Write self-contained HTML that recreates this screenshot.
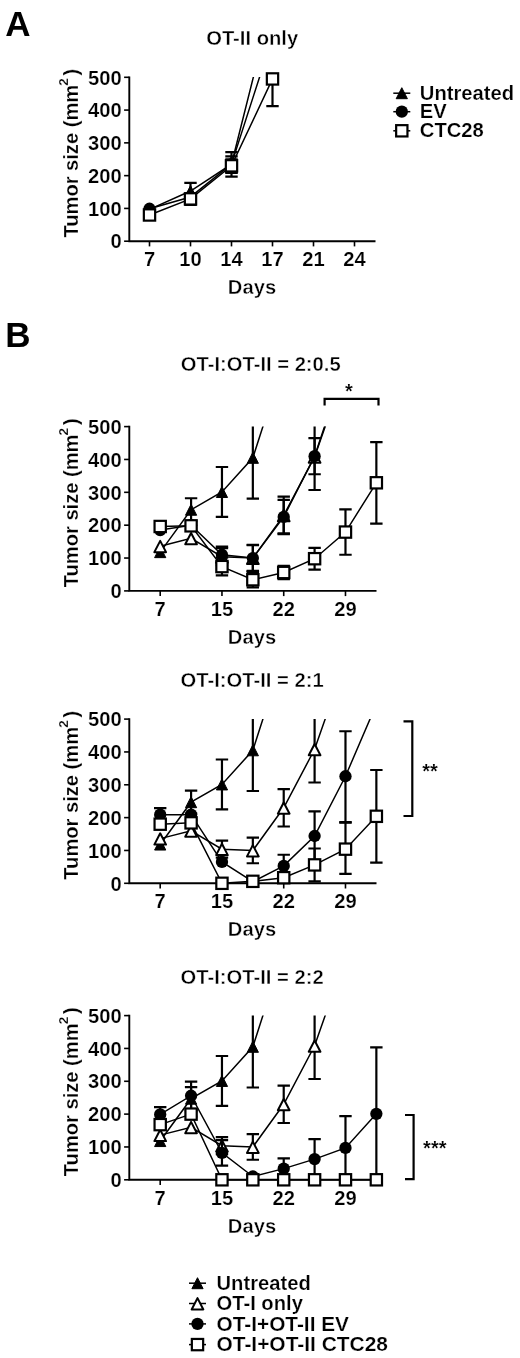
<!DOCTYPE html>
<html lang="en"><head><meta charset="utf-8"><title>Figure</title>
<style>html,body{margin:0;padding:0;background:#fff}svg{display:block;will-change:transform}text{font-family:'Liberation Sans', sans-serif;fill:#000}</style>
</head><body>
<svg width="520" height="1358" viewBox="0 0 520 1358" font-family='"Liberation Sans", sans-serif'>
<rect width="520" height="1358" fill="#fff"/>
<text x="5.30" y="36.40" font-size="35" text-anchor="start" font-weight="bold">A</text>
<text x="5.30" y="347.20" font-size="35" text-anchor="start" font-weight="bold">B</text>
<clipPath id="cpA"><rect x="129.3" y="77.10" width="266.2" height="175.90"/></clipPath>
<text x="206.20" y="45.40" font-size="20.2" text-anchor="start" font-weight="bold" stroke="#fff" stroke-width="0.4">OT-II only</text>
<path d="M129.3 76.40V241.20H375.5" fill="none" stroke="#000" stroke-width="1.9"/>
<line x1="124.10000000000001" x2="129.3" y1="241.20" y2="241.20" stroke="#000" stroke-width="1.6"/>
<text x="121.70" y="248.40" font-size="20.2" text-anchor="end" font-weight="bold" stroke="#fff" stroke-width="0.22">0</text>
<line x1="124.10000000000001" x2="129.3" y1="208.42" y2="208.42" stroke="#000" stroke-width="1.6"/>
<text x="121.70" y="215.62" font-size="20.2" text-anchor="end" font-weight="bold" stroke="#fff" stroke-width="0.22">100</text>
<line x1="124.10000000000001" x2="129.3" y1="175.64" y2="175.64" stroke="#000" stroke-width="1.6"/>
<text x="121.70" y="182.84" font-size="20.2" text-anchor="end" font-weight="bold" stroke="#fff" stroke-width="0.22">200</text>
<line x1="124.10000000000001" x2="129.3" y1="142.86" y2="142.86" stroke="#000" stroke-width="1.6"/>
<text x="121.70" y="150.06" font-size="20.2" text-anchor="end" font-weight="bold" stroke="#fff" stroke-width="0.22">300</text>
<line x1="124.10000000000001" x2="129.3" y1="110.08" y2="110.08" stroke="#000" stroke-width="1.6"/>
<text x="121.70" y="117.28" font-size="20.2" text-anchor="end" font-weight="bold" stroke="#fff" stroke-width="0.22">400</text>
<line x1="124.10000000000001" x2="129.3" y1="77.30" y2="77.30" stroke="#000" stroke-width="1.6"/>
<text x="121.70" y="84.50" font-size="20.2" text-anchor="end" font-weight="bold" stroke="#fff" stroke-width="0.22">500</text>
<line x1="149.50" x2="149.50" y1="241.20" y2="246.40" stroke="#000" stroke-width="1.6"/>
<text x="149.50" y="265.90" font-size="20.2" text-anchor="middle" font-weight="bold" stroke="#fff" stroke-width="0.22">7</text>
<line x1="190.50" x2="190.50" y1="241.20" y2="246.40" stroke="#000" stroke-width="1.6"/>
<text x="190.50" y="265.90" font-size="20.2" text-anchor="middle" font-weight="bold" stroke="#fff" stroke-width="0.22">10</text>
<line x1="231.50" x2="231.50" y1="241.20" y2="246.40" stroke="#000" stroke-width="1.6"/>
<text x="231.50" y="265.90" font-size="20.2" text-anchor="middle" font-weight="bold" stroke="#fff" stroke-width="0.22">14</text>
<line x1="272.50" x2="272.50" y1="241.20" y2="246.40" stroke="#000" stroke-width="1.6"/>
<text x="272.50" y="265.90" font-size="20.2" text-anchor="middle" font-weight="bold" stroke="#fff" stroke-width="0.22">17</text>
<line x1="313.50" x2="313.50" y1="241.20" y2="246.40" stroke="#000" stroke-width="1.6"/>
<text x="313.50" y="265.90" font-size="20.2" text-anchor="middle" font-weight="bold" stroke="#fff" stroke-width="0.22">21</text>
<line x1="354.50" x2="354.50" y1="241.20" y2="246.40" stroke="#000" stroke-width="1.6"/>
<text x="354.50" y="265.90" font-size="20.2" text-anchor="middle" font-weight="bold" stroke="#fff" stroke-width="0.22">24</text>
<text x="252.00" y="294.20" font-size="20.2" text-anchor="middle" font-weight="bold" stroke="#fff" stroke-width="0.4">Days</text>
<g transform="translate(78.0,237.60) rotate(-90)">
<text x="0.00" y="0.00" font-size="20.2" text-anchor="start" font-weight="bold" stroke="#fff" stroke-width="0.22" textLength="152.8" lengthAdjust="spacingAndGlyphs">Tumor size (mm</text>
<text x="151.90" y="-9.60" font-size="13.6" text-anchor="start" font-weight="bold" stroke="#fff" stroke-width="0.2">2</text>
<text x="162.20" y="0.00" font-size="20.2" text-anchor="start" font-weight="bold" stroke="#fff" stroke-width="0.22">)</text>
</g>
<g clip-path="url(#cpA)">
<path d="M184.30 182.85H196.70M190.50 182.85V199.24M184.30 199.24H196.70" fill="none" stroke="#000" stroke-width="2.2"/>
<path d="M225.30 152.04H237.70M231.50 152.04V176.62M225.30 176.62H237.70" fill="none" stroke="#000" stroke-width="2.2"/>
<polyline points="149.50,209.40 190.50,191.05 231.50,164.17 272.50,0.92" fill="none" stroke="#000" stroke-width="1.5"/>
</g>
<polygon points="149.50,203.90 155.10,214.90 143.90,214.90" fill="#000" stroke="#000" stroke-width="1"/>
<polygon points="190.50,185.55 196.10,196.55 184.90,196.55" fill="#000" stroke="#000" stroke-width="1"/>
<polygon points="231.50,158.67 237.10,169.67 225.90,169.67" fill="#000" stroke="#000" stroke-width="1"/>
<g clip-path="url(#cpA)">
<path d="M184.30 193.67H196.70M190.50 193.67V204.81M184.30 204.81H196.70" fill="none" stroke="#000" stroke-width="2.2"/>
<path d="M225.30 156.30H237.70M231.50 156.30V173.02M225.30 173.02H237.70" fill="none" stroke="#000" stroke-width="2.2"/>
<polyline points="149.50,208.75 190.50,196.95 231.50,164.17 272.50,36.98" fill="none" stroke="#000" stroke-width="1.5"/>
</g>
<circle cx="149.50" cy="208.75" r="6.15" fill="#000"/>
<circle cx="190.50" cy="196.95" r="6.15" fill="#000"/>
<circle cx="231.50" cy="164.17" r="6.15" fill="#000"/>
<g clip-path="url(#cpA)">
<path d="M225.30 159.25H237.70M231.50 159.25V172.36M225.30 172.36H237.70" fill="none" stroke="#000" stroke-width="2.2"/>
<path d="M266.30 78.94H278.70M272.50 78.94V106.15M266.30 106.15H278.70" fill="none" stroke="#000" stroke-width="2.2"/>
<polyline points="149.50,214.98 190.50,198.91 231.50,165.81 272.50,78.94" fill="none" stroke="#000" stroke-width="1.5"/>
</g>
<rect x="143.85" y="209.33" width="11.3" height="11.3" fill="#fff" stroke="#000" stroke-width="2.2"/>
<rect x="184.85" y="193.26" width="11.3" height="11.3" fill="#fff" stroke="#000" stroke-width="2.2"/>
<rect x="225.85" y="160.16" width="11.3" height="11.3" fill="#fff" stroke="#000" stroke-width="2.2"/>
<rect x="266.85" y="73.29" width="11.3" height="11.3" fill="#fff" stroke="#000" stroke-width="2.2"/>
<g clip-path="url(#cpA)">
</g>
<line x1="393.3" x2="410.3" y1="93.2" y2="93.2" stroke="#000" stroke-width="1.5"/>
<polygon points="401.80,87.70 407.40,98.70 396.20,98.70" fill="#000" stroke="#000" stroke-width="1"/>
<text x="419.80" y="99.80" font-size="20.2" text-anchor="start" font-weight="bold" stroke="#fff" stroke-width="0.22">Untreated</text>
<line x1="393.3" x2="410.3" y1="111.7" y2="111.7" stroke="#000" stroke-width="1.5"/>
<circle cx="401.80" cy="111.70" r="6.15" fill="#000"/>
<text x="419.80" y="118.30" font-size="20.2" text-anchor="start" font-weight="bold" stroke="#fff" stroke-width="0.22">EV</text>
<line x1="393.3" x2="410.3" y1="130.8" y2="130.8" stroke="#000" stroke-width="1.5"/>
<rect x="396.15" y="125.15" width="11.3" height="11.3" fill="#fff" stroke="#000" stroke-width="2.2"/>
<text x="419.80" y="136.90" font-size="20.2" text-anchor="start" font-weight="bold" stroke="#fff" stroke-width="0.22">CTC28</text>
<clipPath id="cpB1"><rect x="129.3" y="426.40" width="267.2" height="176.30"/></clipPath>
<text x="180.80" y="370.50" font-size="20.2" text-anchor="start" font-weight="bold" stroke="#fff" stroke-width="0.4">OT-I:OT-II = 2:0.5</text>
<path d="M129.3 425.70V590.90H376.5" fill="none" stroke="#000" stroke-width="1.9"/>
<line x1="124.10000000000001" x2="129.3" y1="590.90" y2="590.90" stroke="#000" stroke-width="1.6"/>
<text x="121.70" y="598.10" font-size="20.2" text-anchor="end" font-weight="bold" stroke="#fff" stroke-width="0.22">0</text>
<line x1="124.10000000000001" x2="129.3" y1="558.04" y2="558.04" stroke="#000" stroke-width="1.6"/>
<text x="121.70" y="565.24" font-size="20.2" text-anchor="end" font-weight="bold" stroke="#fff" stroke-width="0.22">100</text>
<line x1="124.10000000000001" x2="129.3" y1="525.18" y2="525.18" stroke="#000" stroke-width="1.6"/>
<text x="121.70" y="532.38" font-size="20.2" text-anchor="end" font-weight="bold" stroke="#fff" stroke-width="0.22">200</text>
<line x1="124.10000000000001" x2="129.3" y1="492.32" y2="492.32" stroke="#000" stroke-width="1.6"/>
<text x="121.70" y="499.52" font-size="20.2" text-anchor="end" font-weight="bold" stroke="#fff" stroke-width="0.22">300</text>
<line x1="124.10000000000001" x2="129.3" y1="459.46" y2="459.46" stroke="#000" stroke-width="1.6"/>
<text x="121.70" y="466.66" font-size="20.2" text-anchor="end" font-weight="bold" stroke="#fff" stroke-width="0.22">400</text>
<line x1="124.10000000000001" x2="129.3" y1="426.60" y2="426.60" stroke="#000" stroke-width="1.6"/>
<text x="121.70" y="433.80" font-size="20.2" text-anchor="end" font-weight="bold" stroke="#fff" stroke-width="0.22">500</text>
<line x1="160.20" x2="160.20" y1="590.90" y2="596.10" stroke="#000" stroke-width="1.6"/>
<text x="160.20" y="615.60" font-size="20.2" text-anchor="middle" font-weight="bold" stroke="#fff" stroke-width="0.22">7</text>
<line x1="221.96" x2="221.96" y1="590.90" y2="596.10" stroke="#000" stroke-width="1.6"/>
<text x="221.96" y="615.60" font-size="20.2" text-anchor="middle" font-weight="bold" stroke="#fff" stroke-width="0.22">15</text>
<line x1="283.72" x2="283.72" y1="590.90" y2="596.10" stroke="#000" stroke-width="1.6"/>
<text x="283.72" y="615.60" font-size="20.2" text-anchor="middle" font-weight="bold" stroke="#fff" stroke-width="0.22">22</text>
<line x1="345.48" x2="345.48" y1="590.90" y2="596.10" stroke="#000" stroke-width="1.6"/>
<text x="345.48" y="615.60" font-size="20.2" text-anchor="middle" font-weight="bold" stroke="#fff" stroke-width="0.22">29</text>
<text x="252.00" y="644.00" font-size="20.2" text-anchor="middle" font-weight="bold" stroke="#fff" stroke-width="0.4">Days</text>
<g transform="translate(78.0,587.30) rotate(-90)">
<text x="0.00" y="0.00" font-size="20.2" text-anchor="start" font-weight="bold" stroke="#fff" stroke-width="0.22" textLength="152.8" lengthAdjust="spacingAndGlyphs">Tumor size (mm</text>
<text x="151.90" y="-9.60" font-size="13.6" text-anchor="start" font-weight="bold" stroke="#fff" stroke-width="0.2">2</text>
<text x="162.20" y="0.00" font-size="20.2" text-anchor="start" font-weight="bold" stroke="#fff" stroke-width="0.22">)</text>
</g>
<g clip-path="url(#cpB1)">
<path d="M184.88 498.23H197.28M191.08 498.23V521.24M184.88 521.24H197.28" fill="none" stroke="#000" stroke-width="2.2"/>
<path d="M215.76 467.02H228.16M221.96 467.02V516.97M215.76 516.97H228.16" fill="none" stroke="#000" stroke-width="2.2"/>
<path d="M246.64 417.07H259.04M252.84 417.07V498.56M246.64 498.56H259.04" fill="none" stroke="#000" stroke-width="2.2"/>
<polyline points="160.20,552.13 191.08,509.74 221.96,491.99 252.84,457.82 283.72,361.87" fill="none" stroke="#000" stroke-width="1.5"/>
</g>
<polygon points="160.20,546.63 165.80,557.63 154.60,557.63" fill="#000" stroke="#000" stroke-width="1"/>
<polygon points="191.08,504.24 196.68,515.24 185.48,515.24" fill="#000" stroke="#000" stroke-width="1"/>
<polygon points="221.96,486.49 227.56,497.49 216.36,497.49" fill="#000" stroke="#000" stroke-width="1"/>
<polygon points="252.84,452.32 258.44,463.32 247.24,463.32" fill="#000" stroke="#000" stroke-width="1"/>
<g clip-path="url(#cpB1)">
<path d="M215.76 548.18H228.16M221.96 548.18V565.27M215.76 565.27H228.16" fill="none" stroke="#000" stroke-width="2.2"/>
<path d="M246.64 545.22H259.04M252.84 545.22V570.86M246.64 570.86H259.04" fill="none" stroke="#000" stroke-width="2.2"/>
<path d="M277.52 496.59H289.92M283.72 496.59V534.05M277.52 534.05H289.92" fill="none" stroke="#000" stroke-width="2.2"/>
<path d="M308.40 423.64H320.80M314.60 423.64V490.02M308.40 490.02H320.80" fill="none" stroke="#000" stroke-width="2.2"/>
<polyline points="160.20,546.21 191.08,538.32 221.96,556.73 252.84,558.04 283.72,515.32 314.60,456.83 345.48,368.44" fill="none" stroke="#000" stroke-width="1.5"/>
</g>
<polygon points="160.20,540.86 166.05,552.16 154.35,552.16" fill="#fff" stroke="#000" stroke-width="2" stroke-linejoin="round"/>
<polygon points="191.08,532.97 196.93,544.27 185.23,544.27" fill="#fff" stroke="#000" stroke-width="2" stroke-linejoin="round"/>
<polygon points="221.96,551.38 227.81,562.68 216.11,562.68" fill="#fff" stroke="#000" stroke-width="2" stroke-linejoin="round"/>
<polygon points="252.84,552.69 258.69,563.99 246.99,563.99" fill="#fff" stroke="#000" stroke-width="2" stroke-linejoin="round"/>
<polygon points="283.72,509.97 289.57,521.27 277.87,521.27" fill="#fff" stroke="#000" stroke-width="2" stroke-linejoin="round"/>
<polygon points="314.60,451.48 320.45,462.78 308.75,462.78" fill="#fff" stroke="#000" stroke-width="2" stroke-linejoin="round"/>
<g clip-path="url(#cpB1)">
<path d="M215.76 546.54H228.16M221.96 546.54V562.97M215.76 562.97H228.16" fill="none" stroke="#000" stroke-width="2.2"/>
<path d="M246.64 544.90H259.04M252.84 544.90V571.18M246.64 571.18H259.04" fill="none" stroke="#000" stroke-width="2.2"/>
<path d="M277.52 499.88H289.92M283.72 499.88V533.39M277.52 533.39H289.92" fill="none" stroke="#000" stroke-width="2.2"/>
<path d="M308.40 438.10H320.80M314.60 438.10V474.25M308.40 474.25H320.80" fill="none" stroke="#000" stroke-width="2.2"/>
<polyline points="160.20,530.11 191.08,525.18 221.96,554.75 252.84,558.04 283.72,516.97 314.60,456.17 345.48,364.17" fill="none" stroke="#000" stroke-width="1.5"/>
</g>
<circle cx="160.20" cy="530.11" r="6.15" fill="#000"/>
<circle cx="191.08" cy="525.18" r="6.15" fill="#000"/>
<circle cx="221.96" cy="554.75" r="6.15" fill="#000"/>
<circle cx="252.84" cy="558.04" r="6.15" fill="#000"/>
<circle cx="283.72" cy="516.97" r="6.15" fill="#000"/>
<circle cx="314.60" cy="456.17" r="6.15" fill="#000"/>
<g clip-path="url(#cpB1)">
<path d="M215.76 557.71H228.16M221.96 557.71V575.46M215.76 575.46H228.16" fill="none" stroke="#000" stroke-width="2.2"/>
<path d="M246.64 572.17H259.04M252.84 572.17V587.29M246.64 587.29H259.04" fill="none" stroke="#000" stroke-width="2.2"/>
<path d="M277.52 565.93H289.92M283.72 565.93V579.07M277.52 579.07H289.92" fill="none" stroke="#000" stroke-width="2.2"/>
<path d="M308.40 547.85H320.80M314.60 547.85V569.54M308.40 569.54H320.80" fill="none" stroke="#000" stroke-width="2.2"/>
<path d="M339.28 509.41H351.68M345.48 509.41V554.75M339.28 554.75H351.68" fill="none" stroke="#000" stroke-width="2.2"/>
<path d="M370.16 442.04H382.56M376.36 442.04V523.54M370.16 523.54H382.56" fill="none" stroke="#000" stroke-width="2.2"/>
<polyline points="160.20,526.49 191.08,525.84 221.96,566.58 252.84,579.73 283.72,572.50 314.60,558.70 345.48,532.08 376.36,482.79" fill="none" stroke="#000" stroke-width="1.5"/>
</g>
<rect x="154.55" y="520.84" width="11.3" height="11.3" fill="#fff" stroke="#000" stroke-width="2.2"/>
<rect x="185.43" y="520.19" width="11.3" height="11.3" fill="#fff" stroke="#000" stroke-width="2.2"/>
<rect x="216.31" y="560.93" width="11.3" height="11.3" fill="#fff" stroke="#000" stroke-width="2.2"/>
<rect x="247.19" y="574.08" width="11.3" height="11.3" fill="#fff" stroke="#000" stroke-width="2.2"/>
<rect x="278.07" y="566.85" width="11.3" height="11.3" fill="#fff" stroke="#000" stroke-width="2.2"/>
<rect x="308.95" y="553.05" width="11.3" height="11.3" fill="#fff" stroke="#000" stroke-width="2.2"/>
<rect x="339.83" y="526.43" width="11.3" height="11.3" fill="#fff" stroke="#000" stroke-width="2.2"/>
<rect x="370.71" y="477.14" width="11.3" height="11.3" fill="#fff" stroke="#000" stroke-width="2.2"/>
<g clip-path="url(#cpB1)">
</g>
<path d="M324.6 405.5V398.8H378.5V405.5" fill="none" stroke="#000" stroke-width="2.2"/>
<text x="349.00" y="397.50" font-size="20" text-anchor="middle" font-weight="bold" stroke="#fff" stroke-width="0.15">*</text>
<clipPath id="cpB2"><rect x="129.3" y="718.90" width="267.2" height="176.20"/></clipPath>
<text x="180.60" y="687.00" font-size="20.2" text-anchor="start" font-weight="bold" stroke="#fff" stroke-width="0.4">OT-I:OT-II = 2:1</text>
<path d="M129.3 718.20V883.30H376.5" fill="none" stroke="#000" stroke-width="1.9"/>
<line x1="124.10000000000001" x2="129.3" y1="883.30" y2="883.30" stroke="#000" stroke-width="1.6"/>
<text x="121.70" y="890.50" font-size="20.2" text-anchor="end" font-weight="bold" stroke="#fff" stroke-width="0.22">0</text>
<line x1="124.10000000000001" x2="129.3" y1="850.46" y2="850.46" stroke="#000" stroke-width="1.6"/>
<text x="121.70" y="857.66" font-size="20.2" text-anchor="end" font-weight="bold" stroke="#fff" stroke-width="0.22">100</text>
<line x1="124.10000000000001" x2="129.3" y1="817.62" y2="817.62" stroke="#000" stroke-width="1.6"/>
<text x="121.70" y="824.82" font-size="20.2" text-anchor="end" font-weight="bold" stroke="#fff" stroke-width="0.22">200</text>
<line x1="124.10000000000001" x2="129.3" y1="784.78" y2="784.78" stroke="#000" stroke-width="1.6"/>
<text x="121.70" y="791.98" font-size="20.2" text-anchor="end" font-weight="bold" stroke="#fff" stroke-width="0.22">300</text>
<line x1="124.10000000000001" x2="129.3" y1="751.94" y2="751.94" stroke="#000" stroke-width="1.6"/>
<text x="121.70" y="759.14" font-size="20.2" text-anchor="end" font-weight="bold" stroke="#fff" stroke-width="0.22">400</text>
<line x1="124.10000000000001" x2="129.3" y1="719.10" y2="719.10" stroke="#000" stroke-width="1.6"/>
<text x="121.70" y="726.30" font-size="20.2" text-anchor="end" font-weight="bold" stroke="#fff" stroke-width="0.22">500</text>
<line x1="160.20" x2="160.20" y1="883.30" y2="888.50" stroke="#000" stroke-width="1.6"/>
<text x="160.20" y="908.00" font-size="20.2" text-anchor="middle" font-weight="bold" stroke="#fff" stroke-width="0.22">7</text>
<line x1="221.96" x2="221.96" y1="883.30" y2="888.50" stroke="#000" stroke-width="1.6"/>
<text x="221.96" y="908.00" font-size="20.2" text-anchor="middle" font-weight="bold" stroke="#fff" stroke-width="0.22">15</text>
<line x1="283.72" x2="283.72" y1="883.30" y2="888.50" stroke="#000" stroke-width="1.6"/>
<text x="283.72" y="908.00" font-size="20.2" text-anchor="middle" font-weight="bold" stroke="#fff" stroke-width="0.22">22</text>
<line x1="345.48" x2="345.48" y1="883.30" y2="888.50" stroke="#000" stroke-width="1.6"/>
<text x="345.48" y="908.00" font-size="20.2" text-anchor="middle" font-weight="bold" stroke="#fff" stroke-width="0.22">29</text>
<text x="252.00" y="936.30" font-size="20.2" text-anchor="middle" font-weight="bold" stroke="#fff" stroke-width="0.4">Days</text>
<g transform="translate(78.0,879.70) rotate(-90)">
<text x="0.00" y="0.00" font-size="20.2" text-anchor="start" font-weight="bold" stroke="#fff" stroke-width="0.22" textLength="152.8" lengthAdjust="spacingAndGlyphs">Tumor size (mm</text>
<text x="151.90" y="-9.60" font-size="13.6" text-anchor="start" font-weight="bold" stroke="#fff" stroke-width="0.2">2</text>
<text x="162.20" y="0.00" font-size="20.2" text-anchor="start" font-weight="bold" stroke="#fff" stroke-width="0.22">)</text>
</g>
<g clip-path="url(#cpB2)">
<path d="M184.88 790.69H197.28M191.08 790.69V813.68M184.88 813.68H197.28" fill="none" stroke="#000" stroke-width="2.2"/>
<path d="M215.76 759.49H228.16M221.96 759.49V809.41M215.76 809.41H228.16" fill="none" stroke="#000" stroke-width="2.2"/>
<path d="M246.64 709.58H259.04M252.84 709.58V791.02M246.64 791.02H259.04" fill="none" stroke="#000" stroke-width="2.2"/>
<polyline points="160.20,844.55 191.08,802.19 221.96,784.45 252.84,750.30 283.72,654.41" fill="none" stroke="#000" stroke-width="1.5"/>
</g>
<polygon points="160.20,839.05 165.80,850.05 154.60,850.05" fill="#000" stroke="#000" stroke-width="1"/>
<polygon points="191.08,796.69 196.68,807.69 185.48,807.69" fill="#000" stroke="#000" stroke-width="1"/>
<polygon points="221.96,778.95 227.56,789.95 216.36,789.95" fill="#000" stroke="#000" stroke-width="1"/>
<polygon points="252.84,744.80 258.44,755.80 247.24,755.80" fill="#000" stroke="#000" stroke-width="1"/>
<g clip-path="url(#cpB2)">
<path d="M215.76 840.61H228.16M221.96 840.61V857.68M215.76 857.68H228.16" fill="none" stroke="#000" stroke-width="2.2"/>
<path d="M246.64 837.65H259.04M252.84 837.65V863.27M246.64 863.27H259.04" fill="none" stroke="#000" stroke-width="2.2"/>
<path d="M277.52 789.05H289.92M283.72 789.05V826.49M277.52 826.49H289.92" fill="none" stroke="#000" stroke-width="2.2"/>
<path d="M308.40 716.14H320.80M314.60 716.14V782.48M308.40 782.48H320.80" fill="none" stroke="#000" stroke-width="2.2"/>
<polyline points="160.20,838.64 191.08,830.76 221.96,849.15 252.84,850.46 283.72,807.77 314.60,749.31 345.48,660.97" fill="none" stroke="#000" stroke-width="1.5"/>
</g>
<polygon points="160.20,833.29 166.05,844.59 154.35,844.59" fill="#fff" stroke="#000" stroke-width="2" stroke-linejoin="round"/>
<polygon points="191.08,825.41 196.93,836.71 185.23,836.71" fill="#fff" stroke="#000" stroke-width="2" stroke-linejoin="round"/>
<polygon points="221.96,843.80 227.81,855.10 216.11,855.10" fill="#fff" stroke="#000" stroke-width="2" stroke-linejoin="round"/>
<polygon points="252.84,845.11 258.69,856.41 246.99,856.41" fill="#fff" stroke="#000" stroke-width="2" stroke-linejoin="round"/>
<polygon points="283.72,802.42 289.57,813.72 277.87,813.72" fill="#fff" stroke="#000" stroke-width="2" stroke-linejoin="round"/>
<polygon points="314.60,743.96 320.45,755.26 308.75,755.26" fill="#fff" stroke="#000" stroke-width="2" stroke-linejoin="round"/>
<g clip-path="url(#cpB2)">
<path d="M154.00 808.10H166.40M160.20 808.10V821.23M154.00 821.23H166.40" fill="none" stroke="#000" stroke-width="2.2"/>
<path d="M277.52 854.73H289.92M283.72 854.73V877.06M277.52 877.06H289.92" fill="none" stroke="#000" stroke-width="2.2"/>
<path d="M308.40 811.38H320.80M314.60 811.38V860.64M308.40 860.64H320.80" fill="none" stroke="#000" stroke-width="2.2"/>
<path d="M339.28 731.25H351.68M345.48 731.25V822.22M339.28 822.22H351.68" fill="none" stroke="#000" stroke-width="2.2"/>
<polyline points="160.20,814.66 191.08,814.66 221.96,861.95 252.84,881.66 283.72,865.89 314.60,836.01 345.48,776.24 376.36,704.32" fill="none" stroke="#000" stroke-width="1.5"/>
</g>
<circle cx="160.20" cy="814.66" r="6.15" fill="#000"/>
<circle cx="191.08" cy="814.66" r="6.15" fill="#000"/>
<circle cx="221.96" cy="861.95" r="6.15" fill="#000"/>
<circle cx="252.84" cy="881.66" r="6.15" fill="#000"/>
<circle cx="283.72" cy="865.89" r="6.15" fill="#000"/>
<circle cx="314.60" cy="836.01" r="6.15" fill="#000"/>
<circle cx="345.48" cy="776.24" r="6.15" fill="#000"/>
<g clip-path="url(#cpB2)">
<path d="M154.00 821.56H166.40M160.20 821.56V826.82M154.00 826.82H166.40" fill="none" stroke="#000" stroke-width="2.2"/>
<path d="M184.88 820.25H197.28M191.08 820.25V825.50M184.88 825.50H197.28" fill="none" stroke="#000" stroke-width="2.2"/>
<path d="M277.52 875.09H289.92M283.72 875.09V880.34M277.52 880.34H289.92" fill="none" stroke="#000" stroke-width="2.2"/>
<path d="M308.40 848.49H320.80M314.60 848.49V881.33M308.40 881.33H320.80" fill="none" stroke="#000" stroke-width="2.2"/>
<path d="M339.28 822.55H351.68M345.48 822.55V873.78M339.28 873.78H351.68" fill="none" stroke="#000" stroke-width="2.2"/>
<path d="M370.16 770.00H382.56M376.36 770.00V862.61M370.16 862.61H382.56" fill="none" stroke="#000" stroke-width="2.2"/>
<polyline points="160.20,824.19 191.08,822.87 221.96,883.30 252.84,881.33 283.72,877.72 314.60,864.91 345.48,849.15 376.36,816.31" fill="none" stroke="#000" stroke-width="1.5"/>
</g>
<rect x="154.55" y="818.54" width="11.3" height="11.3" fill="#fff" stroke="#000" stroke-width="2.2"/>
<rect x="185.43" y="817.22" width="11.3" height="11.3" fill="#fff" stroke="#000" stroke-width="2.2"/>
<rect x="216.31" y="877.65" width="11.3" height="11.3" fill="#fff" stroke="#000" stroke-width="2.2"/>
<rect x="247.19" y="875.68" width="11.3" height="11.3" fill="#fff" stroke="#000" stroke-width="2.2"/>
<rect x="278.07" y="872.07" width="11.3" height="11.3" fill="#fff" stroke="#000" stroke-width="2.2"/>
<rect x="308.95" y="859.26" width="11.3" height="11.3" fill="#fff" stroke="#000" stroke-width="2.2"/>
<rect x="339.83" y="843.50" width="11.3" height="11.3" fill="#fff" stroke="#000" stroke-width="2.2"/>
<rect x="370.71" y="810.66" width="11.3" height="11.3" fill="#fff" stroke="#000" stroke-width="2.2"/>
<g clip-path="url(#cpB2)">
</g>
<path d="M403.5 721.3H412.3V816H403.5" fill="none" stroke="#000" stroke-width="2.2"/>
<text x="430.00" y="778.00" font-size="20" text-anchor="middle" font-weight="bold" stroke="#fff" stroke-width="0.15">**</text>
<clipPath id="cpB3"><rect x="129.3" y="1015.40" width="267.2" height="176.20"/></clipPath>
<text x="180.60" y="983.80" font-size="20.2" text-anchor="start" font-weight="bold" stroke="#fff" stroke-width="0.4">OT-I:OT-II = 2:2</text>
<path d="M129.3 1014.70V1179.80H376.5" fill="none" stroke="#000" stroke-width="1.9"/>
<line x1="124.10000000000001" x2="129.3" y1="1179.80" y2="1179.80" stroke="#000" stroke-width="1.6"/>
<text x="121.70" y="1187.00" font-size="20.2" text-anchor="end" font-weight="bold" stroke="#fff" stroke-width="0.22">0</text>
<line x1="124.10000000000001" x2="129.3" y1="1146.96" y2="1146.96" stroke="#000" stroke-width="1.6"/>
<text x="121.70" y="1154.16" font-size="20.2" text-anchor="end" font-weight="bold" stroke="#fff" stroke-width="0.22">100</text>
<line x1="124.10000000000001" x2="129.3" y1="1114.12" y2="1114.12" stroke="#000" stroke-width="1.6"/>
<text x="121.70" y="1121.32" font-size="20.2" text-anchor="end" font-weight="bold" stroke="#fff" stroke-width="0.22">200</text>
<line x1="124.10000000000001" x2="129.3" y1="1081.28" y2="1081.28" stroke="#000" stroke-width="1.6"/>
<text x="121.70" y="1088.48" font-size="20.2" text-anchor="end" font-weight="bold" stroke="#fff" stroke-width="0.22">300</text>
<line x1="124.10000000000001" x2="129.3" y1="1048.44" y2="1048.44" stroke="#000" stroke-width="1.6"/>
<text x="121.70" y="1055.64" font-size="20.2" text-anchor="end" font-weight="bold" stroke="#fff" stroke-width="0.22">400</text>
<line x1="124.10000000000001" x2="129.3" y1="1015.60" y2="1015.60" stroke="#000" stroke-width="1.6"/>
<text x="121.70" y="1022.80" font-size="20.2" text-anchor="end" font-weight="bold" stroke="#fff" stroke-width="0.22">500</text>
<line x1="160.20" x2="160.20" y1="1179.80" y2="1185.00" stroke="#000" stroke-width="1.6"/>
<text x="160.20" y="1204.50" font-size="20.2" text-anchor="middle" font-weight="bold" stroke="#fff" stroke-width="0.22">7</text>
<line x1="221.96" x2="221.96" y1="1179.80" y2="1185.00" stroke="#000" stroke-width="1.6"/>
<text x="221.96" y="1204.50" font-size="20.2" text-anchor="middle" font-weight="bold" stroke="#fff" stroke-width="0.22">15</text>
<line x1="283.72" x2="283.72" y1="1179.80" y2="1185.00" stroke="#000" stroke-width="1.6"/>
<text x="283.72" y="1204.50" font-size="20.2" text-anchor="middle" font-weight="bold" stroke="#fff" stroke-width="0.22">22</text>
<line x1="345.48" x2="345.48" y1="1179.80" y2="1185.00" stroke="#000" stroke-width="1.6"/>
<text x="345.48" y="1204.50" font-size="20.2" text-anchor="middle" font-weight="bold" stroke="#fff" stroke-width="0.22">29</text>
<text x="252.00" y="1232.80" font-size="20.2" text-anchor="middle" font-weight="bold" stroke="#fff" stroke-width="0.4">Days</text>
<g transform="translate(78.0,1176.20) rotate(-90)">
<text x="0.00" y="0.00" font-size="20.2" text-anchor="start" font-weight="bold" stroke="#fff" stroke-width="0.22" textLength="152.8" lengthAdjust="spacingAndGlyphs">Tumor size (mm</text>
<text x="151.90" y="-9.60" font-size="13.6" text-anchor="start" font-weight="bold" stroke="#fff" stroke-width="0.2">2</text>
<text x="162.20" y="0.00" font-size="20.2" text-anchor="start" font-weight="bold" stroke="#fff" stroke-width="0.22">)</text>
</g>
<g clip-path="url(#cpB3)">
<path d="M184.88 1087.19H197.28M191.08 1087.19V1110.18M184.88 1110.18H197.28" fill="none" stroke="#000" stroke-width="2.2"/>
<path d="M215.76 1055.99H228.16M221.96 1055.99V1105.91M215.76 1105.91H228.16" fill="none" stroke="#000" stroke-width="2.2"/>
<path d="M246.64 1006.08H259.04M252.84 1006.08V1087.52M246.64 1087.52H259.04" fill="none" stroke="#000" stroke-width="2.2"/>
<polyline points="160.20,1141.05 191.08,1098.69 221.96,1080.95 252.84,1046.80 283.72,950.91" fill="none" stroke="#000" stroke-width="1.5"/>
</g>
<polygon points="160.20,1135.55 165.80,1146.55 154.60,1146.55" fill="#000" stroke="#000" stroke-width="1"/>
<polygon points="191.08,1093.19 196.68,1104.19 185.48,1104.19" fill="#000" stroke="#000" stroke-width="1"/>
<polygon points="221.96,1075.45 227.56,1086.45 216.36,1086.45" fill="#000" stroke="#000" stroke-width="1"/>
<polygon points="252.84,1041.30 258.44,1052.30 247.24,1052.30" fill="#000" stroke="#000" stroke-width="1"/>
<g clip-path="url(#cpB3)">
<path d="M215.76 1137.11H228.16M221.96 1137.11V1154.18M215.76 1154.18H228.16" fill="none" stroke="#000" stroke-width="2.2"/>
<path d="M246.64 1134.15H259.04M252.84 1134.15V1159.77M246.64 1159.77H259.04" fill="none" stroke="#000" stroke-width="2.2"/>
<path d="M277.52 1085.55H289.92M283.72 1085.55V1122.99M277.52 1122.99H289.92" fill="none" stroke="#000" stroke-width="2.2"/>
<path d="M308.40 1012.64H320.80M314.60 1012.64V1078.98M308.40 1078.98H320.80" fill="none" stroke="#000" stroke-width="2.2"/>
<polyline points="160.20,1135.14 191.08,1127.26 221.96,1145.65 252.84,1146.96 283.72,1104.27 314.60,1045.81 345.48,957.47" fill="none" stroke="#000" stroke-width="1.5"/>
</g>
<polygon points="160.20,1129.79 166.05,1141.09 154.35,1141.09" fill="#fff" stroke="#000" stroke-width="2" stroke-linejoin="round"/>
<polygon points="191.08,1121.91 196.93,1133.21 185.23,1133.21" fill="#fff" stroke="#000" stroke-width="2" stroke-linejoin="round"/>
<polygon points="221.96,1140.30 227.81,1151.60 216.11,1151.60" fill="#fff" stroke="#000" stroke-width="2" stroke-linejoin="round"/>
<polygon points="252.84,1141.61 258.69,1152.91 246.99,1152.91" fill="#fff" stroke="#000" stroke-width="2" stroke-linejoin="round"/>
<polygon points="283.72,1098.92 289.57,1110.22 277.87,1110.22" fill="#fff" stroke="#000" stroke-width="2" stroke-linejoin="round"/>
<polygon points="314.60,1040.46 320.45,1051.76 308.75,1051.76" fill="#fff" stroke="#000" stroke-width="2" stroke-linejoin="round"/>
<g clip-path="url(#cpB3)">
<path d="M154.00 1107.22H166.40M160.20 1107.22V1121.67M154.00 1121.67H166.40" fill="none" stroke="#000" stroke-width="2.2"/>
<path d="M184.88 1081.61H197.28M191.08 1081.61V1109.85M184.88 1109.85H197.28" fill="none" stroke="#000" stroke-width="2.2"/>
<path d="M215.76 1140.06H228.16M221.96 1140.06V1165.68M215.76 1165.68H228.16" fill="none" stroke="#000" stroke-width="2.2"/>
<path d="M246.64 1174.87H259.04M252.84 1174.87V1178.16M246.64 1178.16H259.04" fill="none" stroke="#000" stroke-width="2.2"/>
<path d="M277.52 1158.45H289.92M283.72 1158.45V1178.81M277.52 1178.81H289.92" fill="none" stroke="#000" stroke-width="2.2"/>
<path d="M308.40 1139.08H320.80M314.60 1139.08V1179.14M308.40 1179.14H320.80" fill="none" stroke="#000" stroke-width="2.2"/>
<path d="M339.28 1116.09H351.68M345.48 1116.09V1179.80M339.28 1179.80H351.68" fill="none" stroke="#000" stroke-width="2.2"/>
<path d="M370.16 1047.45H382.56M376.36 1047.45V1179.80M370.16 1179.80H382.56" fill="none" stroke="#000" stroke-width="2.2"/>
<polyline points="160.20,1114.45 191.08,1095.73 221.96,1152.87 252.84,1176.52 283.72,1168.63 314.60,1159.11 345.48,1147.95 376.36,1113.79" fill="none" stroke="#000" stroke-width="1.5"/>
</g>
<circle cx="160.20" cy="1114.45" r="6.15" fill="#000"/>
<circle cx="191.08" cy="1095.73" r="6.15" fill="#000"/>
<circle cx="221.96" cy="1152.87" r="6.15" fill="#000"/>
<circle cx="252.84" cy="1176.52" r="6.15" fill="#000"/>
<circle cx="283.72" cy="1168.63" r="6.15" fill="#000"/>
<circle cx="314.60" cy="1159.11" r="6.15" fill="#000"/>
<circle cx="345.48" cy="1147.95" r="6.15" fill="#000"/>
<circle cx="376.36" cy="1113.79" r="6.15" fill="#000"/>
<g clip-path="url(#cpB3)">
<path d="M154.00 1122.00H166.40M160.20 1122.00V1127.26M154.00 1127.26H166.40" fill="none" stroke="#000" stroke-width="2.2"/>
<path d="M184.88 1111.49H197.28M191.08 1111.49V1116.75M184.88 1116.75H197.28" fill="none" stroke="#000" stroke-width="2.2"/>
<polyline points="160.20,1124.63 191.08,1114.12 221.96,1179.80 252.84,1179.80 283.72,1179.80 314.60,1179.80 345.48,1179.80 376.36,1179.80" fill="none" stroke="#000" stroke-width="1.5"/>
</g>
<rect x="154.55" y="1118.98" width="11.3" height="11.3" fill="#fff" stroke="#000" stroke-width="2.2"/>
<rect x="185.43" y="1108.47" width="11.3" height="11.3" fill="#fff" stroke="#000" stroke-width="2.2"/>
<rect x="216.31" y="1174.15" width="11.3" height="11.3" fill="#fff" stroke="#000" stroke-width="2.2"/>
<rect x="247.19" y="1174.15" width="11.3" height="11.3" fill="#fff" stroke="#000" stroke-width="2.2"/>
<rect x="278.07" y="1174.15" width="11.3" height="11.3" fill="#fff" stroke="#000" stroke-width="2.2"/>
<rect x="308.95" y="1174.15" width="11.3" height="11.3" fill="#fff" stroke="#000" stroke-width="2.2"/>
<rect x="339.83" y="1174.15" width="11.3" height="11.3" fill="#fff" stroke="#000" stroke-width="2.2"/>
<rect x="370.71" y="1174.15" width="11.3" height="11.3" fill="#fff" stroke="#000" stroke-width="2.2"/>
<g clip-path="url(#cpB3)">
</g>
<path d="M405 1115H413.6V1179.2H405" fill="none" stroke="#000" stroke-width="2.2"/>
<text x="434.80" y="1155.40" font-size="20" text-anchor="middle" font-weight="bold" stroke="#fff" stroke-width="0.15">***</text>
<line x1="189.0" x2="206.0" y1="1283.2" y2="1283.2" stroke="#000" stroke-width="1.5"/>
<polygon points="197.50,1277.70 203.10,1288.70 191.90,1288.70" fill="#000" stroke="#000" stroke-width="1"/>
<text x="216.50" y="1289.80" font-size="20.2" text-anchor="start" font-weight="bold" stroke="#fff" stroke-width="0.22">Untreated</text>
<line x1="189.0" x2="206.0" y1="1303.5" y2="1303.5" stroke="#000" stroke-width="1.5"/>
<polygon points="197.50,1298.15 203.35,1309.45 191.65,1309.45" fill="#fff" stroke="#000" stroke-width="2" stroke-linejoin="round"/>
<text x="216.50" y="1310.10" font-size="20.2" text-anchor="start" font-weight="bold" stroke="#fff" stroke-width="0.22">OT-I only</text>
<line x1="189.0" x2="206.0" y1="1323.9" y2="1323.9" stroke="#000" stroke-width="1.5"/>
<circle cx="197.50" cy="1323.90" r="6.15" fill="#000"/>
<text x="216.50" y="1330.50" font-size="20.2" text-anchor="start" font-weight="bold" stroke="#fff" stroke-width="0.22" textLength="132.5" lengthAdjust="spacingAndGlyphs">OT-I+OT-II EV</text>
<line x1="189.0" x2="206.0" y1="1344.6" y2="1344.6" stroke="#000" stroke-width="1.5"/>
<rect x="191.85" y="1338.95" width="11.3" height="11.3" fill="#fff" stroke="#000" stroke-width="2.2"/>
<text x="216.50" y="1350.60" font-size="20.2" text-anchor="start" font-weight="bold" stroke="#fff" stroke-width="0.22" textLength="171.4" lengthAdjust="spacingAndGlyphs">OT-I+OT-II CTC28</text>
</svg></body></html>
